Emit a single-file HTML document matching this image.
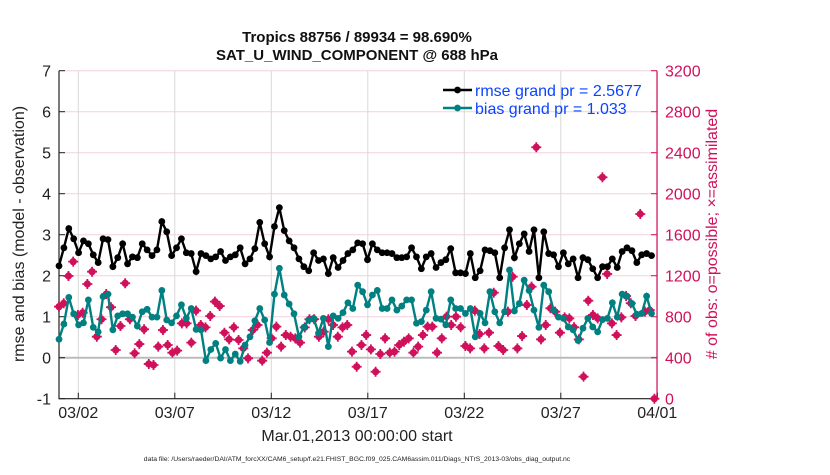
<!DOCTYPE html>
<html><head><meta charset="utf-8"><style>
body{margin:0;background:#fff;font-family:"Liberation Sans",sans-serif}
svg text{font-family:"Liberation Sans",sans-serif}
</style></head><body>
<svg width="830" height="470" xmlns="http://www.w3.org/2000/svg" id="chart"></svg>
<script>
const rmse=[2.24,2.68,3.15,2.9,2.56,2.85,2.78,2.51,2.32,2.9,2.88,2.22,2.44,2.78,2.29,2.46,2.44,2.78,2.63,2.49,2.63,3.32,3.07,2.49,2.68,2.9,2.56,2.54,2.1,2.54,2.49,2.41,2.46,2.59,2.37,2.46,2.51,2.68,2.29,2.41,2.66,3.3,
2.78,2.46,3.2,3.66,3.1,2.85,2.68,2.41,2.22,2.12,2.56,2.37,2.41,2.05,2.44,2.2,2.37,2.54,2.63,2.8,2.78,2.39,2.78,2.63,2.56,2.56,2.54,2.44,2.44,2.46,2.68,2.46,2.17,2.46,2.54,2.2,2.32,2.39,2.66,2.07,
2.07,2.05,2.54,1.95,2.12,2.63,2.61,2.56,1.95,2.68,3.12,2.44,2.78,3.02,2.59,3.12,1.95,3.07,2.54,2.51,2.22,2.56,2.29,2.41,1.95,2.44,2.39,2.17,1.95,2.22,2.22,2.41,2.2,2.59,2.68,2.61,2.32,2.51,2.54,2.49];
const bias=[0.45,0.82,1.47,1.07,0.8,0.85,1.41,0.74,0.63,1.49,1.55,0.68,1.02,1.07,1.07,0.99,0.77,1.12,1.18,0.99,0.99,1.64,0.92,0.85,1.02,1.29,0.96,1.2,0.69,0.68,-0.07,0.2,0.35,-0.01,0.2,-0.07,0.09,-0.09,0.31,0.51,0.9,1.2,
0.92,0.37,1.55,2.18,1.53,1.31,1.07,0.51,0.74,0.92,0.96,0.6,0.96,0.27,1.02,0.96,1.1,1.34,1.2,1.77,1.61,1.29,1.53,1.64,1.2,1.2,1.41,1.16,1.26,1.41,1.41,0.84,0.88,1.16,1.61,0.96,0.94,0.8,1.41,1.2,
1.2,1.08,1.2,0.51,1.08,0.85,1.61,1.12,0.85,1.12,2.14,1.14,1.32,1.89,1.64,1.16,0.74,1.77,1.61,1.16,0.99,0.96,0.75,0.68,0.42,0.72,0.96,0.75,0.63,0.93,0.96,1.34,0.99,1.55,1.5,1.32,1.06,1.08,1.5,1.08];
const nobs=[898,931,1197,1337,817,839,1119,1239,605,775,1021,892,475,709,1126,775,443,533,677,339,329,508,670,524,449,469,735,735,547,859,719,696,807,947,904,644,579,696,573,491,394,
670,719,371,449,589,703,508,621,605,589,547,696,775,775,605,654,775,719,605,696,719,459,312,524,621,481,263,436,589,449,459,524,556,589,449,508,621,703,703,449,589,801,719,
800,697,514,491,859,631,491,644,1034,514,475,849,1190,491,611,914,1093,2453,579,719,882,849,644,794,784,697,579,215,956,817,784,2160,1217,735,621,794,1002,931,807,1802,849,865,0];
const leftTicks=[-1,0,1,2,3,4,5,6,7];
const rightTicks=[0,400,800,1200,1600,2000,2400,2800,3200];
const dateLabels=["03/02","03/07","03/12","03/17","03/22","03/27","04/01"];
const dateDays=[1,6,11,16,21,26,31];
const rmseSpan=30.7, nobsSpan=30.85;

const svg=document.getElementById('chart');
const NS="http://www.w3.org/2000/svg";
const X0=59,PX=19.3,Y0=357.7,PY=41,YTOP=70.7,YBOT=398.7,XR=657;
const xs=d=>X0+d*PX, yl=v=>Y0-v*PY, yr=v=>YBOT-v*PY/400;
function mk(t,a,p){const e=document.createElementNS(NS,t);for(const k in a)e.setAttribute(k,a[k]);(p||svg).appendChild(e);return e;}
leftTicks.forEach(v=>{const l=mk('line',{x1:X0,x2:XR,y1:yl(v),y2:yl(v),stroke:'#f5d0dc','stroke-width':1});

});
dateDays.forEach(d=>{const l=mk('line',{x1:xs(d),x2:xs(d),y1:YTOP,y2:YBOT,stroke:'#d8d8d8','stroke-width':1});

});
const z=mk('line',{x1:X0,x2:XR,y1:yl(0),y2:yl(0),stroke:'#bbb','stroke-width':2});


const ax=mk('path',{d:`M${X0},${YTOP}V${YBOT}H${XR}`,fill:'none',stroke:'#222','stroke-width':1.2});


const ar=mk('line',{x1:XR,x2:XR,y1:YTOP,y2:YBOT,stroke:'#d0105a','stroke-width':1.2});


leftTicks.forEach(v=>{mk('line',{x1:X0,x2:X0+6,y1:yl(v),y2:yl(v),stroke:'#222'});
const t=mk('text',{x:X0-8,y:yl(v)+6,'text-anchor':'end','font-size':16,fill:'#222'});t.textContent=v;

});
rightTicks.forEach(v=>{mk('line',{x1:XR-6,x2:XR,y1:yr(v),y2:yr(v),stroke:'#d0105a'});
const t=mk('text',{x:XR+8,y:yr(v)+6,'font-size':16,fill:'#d0105a'});t.textContent=v;

});
dateDays.forEach((d,i)=>{mk('line',{x1:xs(d),x2:xs(d),y1:YBOT,y2:YBOT-6,stroke:'#222'});
const t=mk('text',{x:xs(d),y:418,'text-anchor':'middle','font-size':16,fill:'#222'});t.textContent=dateLabels[i];

});
const g=mk('g',{});


nobs.forEach((v,i)=>{const x=xs(i*nobsSpan/(nobs.length-1)),y=yr(v);
const c=mk('circle',{cx:x,cy:y,r:3.6,fill:'#d0105a'},g);


mk('path',{d:`M${x-5},${y}H${x+5}M${x},${y-5}V${y+5}`,stroke:'#d0105a','stroke-width':1.8},g);});
function series(arr,col,name){const gg=mk('g',{});


const pts=arr.map((v,i)=>[xs(i*rmseSpan/(arr.length-1)),yl(v)]);
mk('polyline',{points:pts.map(p=>p.join(',')).join(' '),fill:'none',stroke:col,'stroke-width':2.4},gg);
pts.forEach(p=>{const c=mk('circle',{cx:p[0],cy:p[1],r:3.4,fill:col},gg);

});}
series(rmse,'#000','rmse-series');
series(bias,'#008080','bias-series');
const lg=mk('g',{});


[['#000','rmse grand pr = 2.5677',90],['#008080','bias grand pr = 1.033',108]].forEach(e=>{
mk('line',{x1:443,x2:472,y1:e[2],y2:e[2],stroke:e[0],'stroke-width':2.4},lg);
mk('circle',{cx:457.5,cy:e[2],r:3.4,fill:e[0]},lg);
const t=mk('text',{x:475,y:e[2]+6,'font-size':16,fill:'#0b44ff'},lg);t.textContent=e[1];

});
</script>
<svg width="830" height="470" style="position:absolute;left:0;top:0;pointer-events:none" xmlns="http://www.w3.org/2000/svg">
<text x="357" y="42" text-anchor="middle" font-size="15" font-weight="bold" fill="#111">Tropics 88756 / 89934 = 98.690%</text>
<text x="357" y="60" text-anchor="middle" font-size="15" font-weight="bold" fill="#111">SAT_U_WIND_COMPONENT @ 688 hPa</text>
<text transform="translate(24,234) rotate(-90)" text-anchor="middle" font-size="16" fill="#222">rmse and bias (model - observation)</text>
<text transform="translate(717,234) rotate(-90)" text-anchor="middle" font-size="16" fill="#d0105a"># of obs: o=possible; ×=assimilated</text>
<text x="357" y="441" text-anchor="middle" font-size="16" fill="#222">Mar.01,2013 00:00:00 start</text>
<text x="357" y="461" text-anchor="middle" font-size="6.8" fill="#222">data file: /Users/raeder/DAI/ATM_forcXX/CAM6_setup/f.e21.FHIST_BGC.f09_025.CAM6assim.011/Diags_NTrS_2013-03/obs_diag_output.nc</text>
</svg>
</body></html>
